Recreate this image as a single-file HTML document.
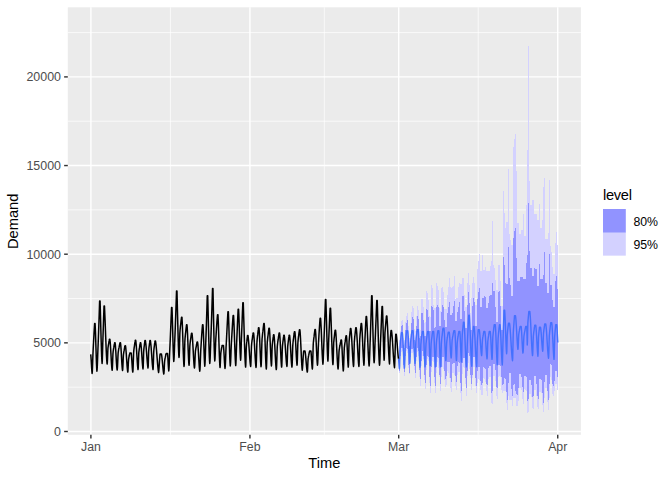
<!DOCTYPE html>
<html><head><meta charset="utf-8"><title>Forecast</title>
<style>html,body{margin:0;padding:0;background:#fff;overflow:hidden}body{width:672px;height:480px;font-family:"Liberation Sans",sans-serif}</style>
</head><body>
<svg width="672" height="480" viewBox="0 0 672 480" style="display:block;font-family:'Liberation Sans',sans-serif">
<rect x="0" y="0" width="672" height="480" fill="#FFFFFF"/>
<rect x="67.8" y="7.3" width="513.10" height="427.50" fill="#EBEBEB"/>
<g stroke="#FFFFFF" stroke-width="0.71" fill="none">
<line x1="67.8" x2="580.9" y1="387.18" y2="387.18"/>
<line x1="67.8" x2="580.9" y1="298.52" y2="298.52"/>
<line x1="67.8" x2="580.9" y1="209.88" y2="209.88"/>
<line x1="67.8" x2="580.9" y1="121.23" y2="121.23"/>
<line x1="67.8" x2="580.9" y1="32.58" y2="32.58"/>
<line y1="7.3" y2="434.8" x1="170.42" x2="170.42"/>
<line y1="7.3" y2="434.8" x1="324.31" x2="324.31"/>
<line y1="7.3" y2="434.8" x1="478.22" x2="478.22"/>
</g>
<g stroke="#FFFFFF" stroke-width="1.42" fill="none">
<line x1="67.8" x2="580.9" y1="431.50" y2="431.50"/>
<line x1="67.8" x2="580.9" y1="342.85" y2="342.85"/>
<line x1="67.8" x2="580.9" y1="254.20" y2="254.20"/>
<line x1="67.8" x2="580.9" y1="165.55" y2="165.55"/>
<line x1="67.8" x2="580.9" y1="76.90" y2="76.90"/>
<line y1="7.3" y2="434.8" x1="90.90" x2="90.90"/>
<line y1="7.3" y2="434.8" x1="249.93" x2="249.93"/>
<line y1="7.3" y2="434.8" x1="398.70" x2="398.70"/>
<line y1="7.3" y2="434.8" x1="557.73" x2="557.73"/>
</g>
<g shape-rendering="crispEdges" fill="#D3D1FF">
<rect x="399" y="340.0" width="1" height="32.5"/>
<rect x="400" y="331.0" width="1" height="28.2"/>
<rect x="401" y="320.9" width="1" height="31.1"/>
<rect x="402" y="320.0" width="1" height="31.0"/>
<rect x="403" y="338.0" width="1" height="30.7"/>
<rect x="404" y="340.0" width="1" height="36.2"/>
<rect x="405" y="322.0" width="1" height="37.8"/>
<rect x="406" y="315.9" width="1" height="35.1"/>
<rect x="407" y="313.0" width="1" height="39.5"/>
<rect x="408" y="326.0" width="1" height="41.8"/>
<rect x="409" y="338.0" width="1" height="36.4"/>
<rect x="410" y="334.0" width="1" height="26.2"/>
<rect x="411" y="312.0" width="1" height="40.5"/>
<rect x="412" y="306.2" width="1" height="46.3"/>
<rect x="413" y="307.8" width="1" height="44.2"/>
<rect x="414" y="329.0" width="1" height="40.9"/>
<rect x="415" y="331.0" width="1" height="46.5"/>
<rect x="416" y="315.9" width="1" height="45.0"/>
<rect x="417" y="306.2" width="1" height="45.8"/>
<rect x="418" y="309.6" width="1" height="46.4"/>
<rect x="419" y="329.0" width="1" height="47.7"/>
<rect x="420" y="330.0" width="1" height="55.6"/>
<rect x="421" y="299.0" width="1" height="67.4"/>
<rect x="422" y="299.0" width="1" height="57.0"/>
<rect x="423" y="306.5" width="1" height="52.9"/>
<rect x="424" y="322.8" width="1" height="57.6"/>
<rect x="425" y="322.4" width="1" height="67.0"/>
<rect x="426" y="291.0" width="1" height="78.9"/>
<rect x="427" y="293.0" width="1" height="66.4"/>
<rect x="428" y="300.0" width="1" height="60.6"/>
<rect x="429" y="316.0" width="1" height="67.3"/>
<rect x="430" y="316.5" width="1" height="76.5"/>
<rect x="431" y="285.0" width="1" height="86.9"/>
<rect x="432" y="288.0" width="1" height="72.6"/>
<rect x="433" y="305.0" width="1" height="57.0"/>
<rect x="434" y="308.4" width="1" height="75.0"/>
<rect x="435" y="308.4" width="1" height="84.1"/>
<rect x="436" y="283.0" width="1" height="89.7"/>
<rect x="437" y="286.0" width="1" height="76.0"/>
<rect x="438" y="290.0" width="1" height="77.8"/>
<rect x="439" y="307.9" width="1" height="69.1"/>
<rect x="440" y="311.0" width="1" height="79.8"/>
<rect x="441" y="287.6" width="1" height="89.3"/>
<rect x="442" y="287.0" width="1" height="79.9"/>
<rect x="443" y="292.0" width="1" height="76.8"/>
<rect x="444" y="309.4" width="1" height="70.1"/>
<rect x="445" y="309.4" width="1" height="77.3"/>
<rect x="446" y="309.4" width="1" height="75.1"/>
<rect x="447" y="294.5" width="1" height="76.8"/>
<rect x="448" y="287.0" width="1" height="86.0"/>
<rect x="449" y="278.0" width="1" height="99.5"/>
<rect x="450" y="287.0" width="1" height="100.6"/>
<rect x="451" y="287.6" width="1" height="104.1"/>
<rect x="452" y="287.0" width="1" height="86.1"/>
<rect x="453" y="286.4" width="1" height="86.7"/>
<rect x="454" y="276.0" width="1" height="99.0"/>
<rect x="455" y="298.5" width="1" height="87.2"/>
<rect x="456" y="298.2" width="1" height="92.1"/>
<rect x="457" y="298.2" width="1" height="76.8"/>
<rect x="458" y="287.0" width="1" height="84.9"/>
<rect x="459" y="282.6" width="1" height="89.3"/>
<rect x="460" y="283.9" width="1" height="108.7"/>
<rect x="461" y="283.9" width="1" height="116.9"/>
<rect x="462" y="278.0" width="1" height="95.8"/>
<rect x="463" y="278.2" width="1" height="88.6"/>
<rect x="464" y="294.5" width="1" height="73.0"/>
<rect x="465" y="306.6" width="1" height="77.4"/>
<rect x="466" y="306.6" width="1" height="89.1"/>
<rect x="467" y="283.2" width="1" height="93.0"/>
<rect x="468" y="273.2" width="1" height="89.9"/>
<rect x="469" y="284.5" width="1" height="84.5"/>
<rect x="470" y="313.0" width="1" height="65.0"/>
<rect x="471" y="298.2" width="1" height="91.6"/>
<rect x="472" y="283.2" width="1" height="94.9"/>
<rect x="473" y="277.2" width="1" height="89.6"/>
<rect x="474" y="282.6" width="1" height="84.3"/>
<rect x="475" y="304.8" width="1" height="81.0"/>
<rect x="476" y="304.8" width="1" height="88.5"/>
<rect x="477" y="269.4" width="1" height="113.6"/>
<rect x="478" y="261.2" width="1" height="117.8"/>
<rect x="479" y="254.0" width="1" height="126.4"/>
<rect x="480" y="271.4" width="1" height="118.1"/>
<rect x="481" y="271.4" width="1" height="123.4"/>
<rect x="482" y="255.0" width="1" height="140.4"/>
<rect x="483" y="270.1" width="1" height="107.9"/>
<rect x="484" y="270.1" width="1" height="108.4"/>
<rect x="485" y="267.0" width="1" height="115.2"/>
<rect x="486" y="270.8" width="1" height="120.6"/>
<rect x="487" y="270.8" width="1" height="125.6"/>
<rect x="488" y="270.8" width="1" height="108.2"/>
<rect x="489" y="270.8" width="1" height="106.5"/>
<rect x="490" y="265.8" width="1" height="111.5"/>
<rect x="491" y="261.0" width="1" height="141.6"/>
<rect x="492" y="221.0" width="1" height="182.6"/>
<rect x="493" y="265.1" width="1" height="110.9"/>
<rect x="494" y="268.2" width="1" height="107.8"/>
<rect x="495" y="280.0" width="1" height="101.0"/>
<rect x="496" y="289.7" width="1" height="106.7"/>
<rect x="497" y="289.7" width="1" height="108.9"/>
<rect x="498" y="265.1" width="1" height="111.5"/>
<rect x="499" y="265.1" width="1" height="110.9"/>
<rect x="500" y="280.8" width="1" height="96.5"/>
<rect x="501" y="306.0" width="1" height="83.5"/>
<rect x="502" y="306.0" width="1" height="87.0"/>
<rect x="503" y="191.2" width="1" height="200.1"/>
<rect x="504" y="212.5" width="1" height="178.9"/>
<rect x="505" y="227.5" width="1" height="163.9"/>
<rect x="506" y="222.0" width="1" height="181.2"/>
<rect x="507" y="222.0" width="1" height="187.5"/>
<rect x="508" y="169.0" width="1" height="227.4"/>
<rect x="509" y="234.0" width="1" height="165.5"/>
<rect x="510" y="240.0" width="1" height="159.5"/>
<rect x="511" y="245.0" width="1" height="155.0"/>
<rect x="512" y="245.0" width="1" height="161.4"/>
<rect x="513" y="147.0" width="1" height="250.6"/>
<rect x="514" y="139.0" width="1" height="259.2"/>
<rect x="515" y="134.0" width="1" height="264.2"/>
<rect x="516" y="171.0" width="1" height="234.8"/>
<rect x="517" y="223.0" width="1" height="182.8"/>
<rect x="518" y="223.0" width="1" height="177.8"/>
<rect x="519" y="234.0" width="1" height="153.6"/>
<rect x="520" y="234.0" width="1" height="153.6"/>
<rect x="521" y="230.0" width="1" height="159.5"/>
<rect x="522" y="230.0" width="1" height="168.9"/>
<rect x="523" y="214.4" width="1" height="189.5"/>
<rect x="524" y="235.6" width="1" height="153.4"/>
<rect x="525" y="235.6" width="1" height="154.4"/>
<rect x="526" y="205.0" width="1" height="186.0"/>
<rect x="527" y="150.0" width="1" height="262.5"/>
<rect x="528" y="46.0" width="1" height="366.0"/>
<rect x="529" y="181.0" width="1" height="212.9"/>
<rect x="530" y="205.0" width="1" height="188.9"/>
<rect x="531" y="205.0" width="1" height="192.0"/>
<rect x="532" y="200.0" width="1" height="208.2"/>
<rect x="533" y="200.0" width="1" height="208.9"/>
<rect x="534" y="213.8" width="1" height="176.2"/>
<rect x="535" y="213.8" width="1" height="176.2"/>
<rect x="536" y="213.8" width="1" height="182.6"/>
<rect x="537" y="220.0" width="1" height="187.0"/>
<rect x="538" y="220.0" width="1" height="188.9"/>
<rect x="539" y="203.8" width="1" height="188.6"/>
<rect x="540" y="227.5" width="1" height="164.8"/>
<rect x="541" y="227.5" width="1" height="165.1"/>
<rect x="542" y="220.0" width="1" height="184.5"/>
<rect x="543" y="187.0" width="1" height="225.0"/>
<rect x="544" y="178.0" width="1" height="219.6"/>
<rect x="545" y="238.8" width="1" height="149.5"/>
<rect x="546" y="238.8" width="1" height="149.5"/>
<rect x="547" y="238.8" width="1" height="162.9"/>
<rect x="548" y="233.0" width="1" height="176.8"/>
<rect x="549" y="180.0" width="1" height="217.6"/>
<rect x="550" y="246.0" width="1" height="130.6"/>
<rect x="551" y="252.0" width="1" height="128.0"/>
<rect x="552" y="267.0" width="1" height="126.5"/>
<rect x="553" y="274.0" width="1" height="121.8"/>
<rect x="554" y="274.0" width="1" height="117.4"/>
<rect x="555" y="242.5" width="1" height="141.5"/>
<rect x="556" y="232.0" width="1" height="152.0"/>
<rect x="557" y="245.0" width="1" height="144.8"/>
</g>
<g shape-rendering="crispEdges" fill="#9193FF">
<rect x="399" y="350.0" width="1" height="21.0"/>
<rect x="400" y="340.0" width="1" height="16.1"/>
<rect x="401" y="325.9" width="1" height="22.1"/>
<rect x="402" y="325.0" width="1" height="22.5"/>
<rect x="403" y="345.0" width="1" height="19.6"/>
<rect x="404" y="348.0" width="1" height="23.9"/>
<rect x="405" y="330.0" width="1" height="26.0"/>
<rect x="406" y="322.8" width="1" height="24.8"/>
<rect x="407" y="320.0" width="1" height="28.5"/>
<rect x="408" y="336.0" width="1" height="29.3"/>
<rect x="409" y="346.0" width="1" height="26.5"/>
<rect x="410" y="345.0" width="1" height="11.9"/>
<rect x="411" y="322.8" width="1" height="25.8"/>
<rect x="412" y="317.0" width="1" height="31.5"/>
<rect x="413" y="319.0" width="1" height="29.0"/>
<rect x="414" y="340.0" width="1" height="25.5"/>
<rect x="415" y="344.0" width="1" height="29.0"/>
<rect x="416" y="325.9" width="1" height="30.9"/>
<rect x="417" y="315.9" width="1" height="32.1"/>
<rect x="418" y="319.0" width="1" height="32.0"/>
<rect x="419" y="338.0" width="1" height="32.4"/>
<rect x="420" y="336.0" width="1" height="42.8"/>
<rect x="421" y="313.0" width="1" height="47.7"/>
<rect x="422" y="313.0" width="1" height="38.0"/>
<rect x="423" y="320.0" width="1" height="36.0"/>
<rect x="424" y="335.8" width="1" height="38.8"/>
<rect x="425" y="335.8" width="1" height="46.7"/>
<rect x="426" y="309.0" width="1" height="56.3"/>
<rect x="427" y="310.0" width="1" height="46.0"/>
<rect x="428" y="317.0" width="1" height="40.0"/>
<rect x="429" y="331.4" width="1" height="45.6"/>
<rect x="430" y="331.4" width="1" height="54.2"/>
<rect x="431" y="305.9" width="1" height="61.1"/>
<rect x="432" y="306.5" width="1" height="50.5"/>
<rect x="433" y="309.6" width="1" height="47.4"/>
<rect x="434" y="327.8" width="1" height="49.3"/>
<rect x="435" y="327.4" width="1" height="58.2"/>
<rect x="436" y="306.5" width="1" height="60.5"/>
<rect x="437" y="305.2" width="1" height="51.8"/>
<rect x="438" y="306.6" width="1" height="50.9"/>
<rect x="439" y="325.5" width="1" height="49.5"/>
<rect x="440" y="325.5" width="1" height="58.1"/>
<rect x="441" y="312.0" width="1" height="54.9"/>
<rect x="442" y="305.4" width="1" height="51.5"/>
<rect x="443" y="306.6" width="1" height="50.3"/>
<rect x="444" y="320.0" width="1" height="50.6"/>
<rect x="445" y="327.4" width="1" height="51.2"/>
<rect x="446" y="327.4" width="1" height="49.0"/>
<rect x="447" y="313.0" width="1" height="48.9"/>
<rect x="448" y="307.0" width="1" height="54.9"/>
<rect x="449" y="302.0" width="1" height="59.9"/>
<rect x="450" y="314.8" width="1" height="63.2"/>
<rect x="451" y="314.8" width="1" height="67.6"/>
<rect x="452" y="312.5" width="1" height="51.5"/>
<rect x="453" y="306.0" width="1" height="57.1"/>
<rect x="454" y="301.3" width="1" height="61.8"/>
<rect x="455" y="320.7" width="1" height="55.1"/>
<rect x="456" y="320.7" width="1" height="61.0"/>
<rect x="457" y="312.0" width="1" height="54.2"/>
<rect x="458" y="307.0" width="1" height="54.9"/>
<rect x="459" y="301.9" width="1" height="60.6"/>
<rect x="460" y="318.8" width="1" height="64.2"/>
<rect x="461" y="318.8" width="1" height="71.9"/>
<rect x="462" y="296.1" width="1" height="67.3"/>
<rect x="463" y="296.1" width="1" height="61.7"/>
<rect x="464" y="311.0" width="1" height="46.8"/>
<rect x="465" y="328.0" width="1" height="50.0"/>
<rect x="466" y="328.0" width="1" height="59.6"/>
<rect x="467" y="305.4" width="1" height="65.2"/>
<rect x="468" y="291.9" width="1" height="60.9"/>
<rect x="469" y="303.0" width="1" height="53.2"/>
<rect x="470" y="329.8" width="1" height="45.4"/>
<rect x="471" y="329.8" width="1" height="53.9"/>
<rect x="472" y="306.3" width="1" height="68.7"/>
<rect x="473" y="298.2" width="1" height="58.7"/>
<rect x="474" y="301.9" width="1" height="55.0"/>
<rect x="475" y="326.0" width="1" height="52.0"/>
<rect x="476" y="326.0" width="1" height="59.8"/>
<rect x="477" y="299.4" width="1" height="71.6"/>
<rect x="478" y="291.9" width="1" height="75.4"/>
<rect x="479" y="288.1" width="1" height="79.1"/>
<rect x="480" y="306.9" width="1" height="74.1"/>
<rect x="481" y="306.9" width="1" height="77.6"/>
<rect x="482" y="298.1" width="1" height="84.9"/>
<rect x="483" y="297.5" width="1" height="69.8"/>
<rect x="484" y="296.0" width="1" height="71.5"/>
<rect x="485" y="296.9" width="1" height="71.6"/>
<rect x="486" y="307.5" width="1" height="76.5"/>
<rect x="487" y="307.5" width="1" height="77.9"/>
<rect x="488" y="303.0" width="1" height="65.0"/>
<rect x="489" y="296.2" width="1" height="69.8"/>
<rect x="490" y="295.0" width="1" height="71.0"/>
<rect x="491" y="294.7" width="1" height="97.9"/>
<rect x="492" y="283.1" width="1" height="108.3"/>
<rect x="493" y="291.2" width="1" height="72.8"/>
<rect x="494" y="291.2" width="1" height="72.8"/>
<rect x="495" y="306.9" width="1" height="63.5"/>
<rect x="496" y="322.0" width="1" height="65.3"/>
<rect x="497" y="322.0" width="1" height="66.2"/>
<rect x="498" y="291.9" width="1" height="73.1"/>
<rect x="499" y="291.2" width="1" height="74.1"/>
<rect x="500" y="306.2" width="1" height="60.1"/>
<rect x="501" y="330.0" width="1" height="47.2"/>
<rect x="502" y="330.0" width="1" height="54.5"/>
<rect x="503" y="257.0" width="1" height="127.0"/>
<rect x="504" y="265.0" width="1" height="113.2"/>
<rect x="505" y="282.5" width="1" height="96.0"/>
<rect x="506" y="283.8" width="1" height="107.9"/>
<rect x="507" y="283.8" width="1" height="115.8"/>
<rect x="508" y="247.0" width="1" height="135.9"/>
<rect x="509" y="277.5" width="1" height="95.4"/>
<rect x="510" y="285.0" width="1" height="88.2"/>
<rect x="511" y="295.6" width="1" height="93.3"/>
<rect x="512" y="295.6" width="1" height="100.8"/>
<rect x="513" y="238.0" width="1" height="147.0"/>
<rect x="514" y="230.6" width="1" height="153.4"/>
<rect x="515" y="228.0" width="1" height="162.8"/>
<rect x="516" y="258.0" width="1" height="135.9"/>
<rect x="517" y="280.6" width="1" height="113.9"/>
<rect x="518" y="280.6" width="1" height="107.0"/>
<rect x="519" y="280.6" width="1" height="93.5"/>
<rect x="520" y="277.0" width="1" height="97.1"/>
<rect x="521" y="277.0" width="1" height="100.2"/>
<rect x="522" y="277.0" width="1" height="109.7"/>
<rect x="523" y="279.4" width="1" height="112.3"/>
<rect x="524" y="279.4" width="1" height="96.6"/>
<rect x="525" y="279.4" width="1" height="96.6"/>
<rect x="526" y="262.5" width="1" height="114.8"/>
<rect x="527" y="255.0" width="1" height="145.8"/>
<rect x="528" y="203.0" width="1" height="195.9"/>
<rect x="529" y="251.0" width="1" height="129.0"/>
<rect x="530" y="268.0" width="1" height="112.0"/>
<rect x="531" y="268.0" width="1" height="116.8"/>
<rect x="532" y="275.6" width="1" height="121.4"/>
<rect x="533" y="275.6" width="1" height="120.8"/>
<rect x="534" y="268.0" width="1" height="108.0"/>
<rect x="535" y="269.4" width="1" height="106.6"/>
<rect x="536" y="269.4" width="1" height="114.6"/>
<rect x="537" y="285.6" width="1" height="110.4"/>
<rect x="538" y="285.6" width="1" height="113.3"/>
<rect x="539" y="264.0" width="1" height="115.0"/>
<rect x="540" y="278.8" width="1" height="100.2"/>
<rect x="541" y="278.8" width="1" height="101.2"/>
<rect x="542" y="278.8" width="1" height="113.9"/>
<rect x="543" y="275.0" width="1" height="128.0"/>
<rect x="544" y="252.0" width="1" height="130.0"/>
<rect x="545" y="282.5" width="1" height="92.5"/>
<rect x="546" y="282.5" width="1" height="92.5"/>
<rect x="547" y="293.0" width="1" height="97.8"/>
<rect x="548" y="293.0" width="1" height="107.0"/>
<rect x="549" y="254.0" width="1" height="130.4"/>
<rect x="550" y="285.0" width="1" height="79.1"/>
<rect x="551" y="285.0" width="1" height="79.5"/>
<rect x="552" y="300.0" width="1" height="84.0"/>
<rect x="553" y="307.0" width="1" height="78.8"/>
<rect x="554" y="307.0" width="1" height="74.0"/>
<rect x="555" y="281.0" width="1" height="90.0"/>
<rect x="556" y="275.6" width="1" height="95.4"/>
<rect x="557" y="289.0" width="1" height="88.2"/>
</g>
<path d="M398.50,358.75 L398.73,360.68 L398.95,363.75 L399.17,366.82 L399.40,368.75 L399.62,366.19 L399.83,357.07 L400.05,347.39 L400.27,343.86 L400.48,341.01 L400.70,339.24 L400.92,336.64 L401.13,334.84 L401.35,332.70 L401.55,332.70 L401.75,332.70 L401.95,332.70 L402.15,332.70 L402.35,332.70 L402.56,334.77 L402.76,337.75 L402.97,341.49 L403.17,345.80 L403.38,350.40 L403.58,355.00 L403.78,359.31 L403.99,363.05 L404.19,366.03 L404.40,368.10 L404.61,366.52 L404.83,359.96 L405.04,351.02 L405.25,344.21 L405.47,342.10 L405.68,339.64 L405.90,338.07 L406.11,336.17 L406.32,334.01 L406.54,332.60 L406.75,330.80 L406.95,330.80 L407.15,330.80 L407.35,330.80 L407.55,330.80 L407.75,330.80 L407.95,332.71 L408.15,335.45 L408.35,338.90 L408.55,342.86 L408.75,347.10 L408.95,351.34 L409.15,355.30 L409.35,358.75 L409.55,361.49 L409.75,363.40 L409.95,362.02 L410.16,356.28 L410.36,348.47 L410.57,342.52 L410.77,340.67 L410.98,338.53 L411.18,337.15 L411.39,335.49 L411.59,333.61 L411.80,332.37 L412.00,330.80 L412.20,330.80 L412.40,330.80 L412.60,330.80 L412.80,330.80 L413.00,330.80 L413.20,332.71 L413.40,335.45 L413.60,338.90 L413.80,342.86 L414.00,347.10 L414.20,351.34 L414.40,355.30 L414.60,358.75 L414.80,361.49 L415.00,363.40 L415.20,361.96 L415.41,356.02 L415.61,347.92 L415.82,341.75 L416.02,339.84 L416.23,337.61 L416.43,336.19 L416.64,334.46 L416.84,332.51 L417.05,331.23 L417.25,329.60 L417.45,329.60 L417.65,329.60 L417.85,329.60 L418.05,329.60 L418.25,329.60 L418.47,332.50 L418.69,336.86 L418.91,342.33 L419.12,348.40 L419.34,354.47 L419.56,359.94 L419.78,364.30 L420.00,367.20 L420.21,365.68 L420.43,359.40 L420.64,350.83 L420.85,344.30 L421.07,342.28 L421.28,339.93 L421.50,338.42 L421.71,336.59 L421.92,334.53 L422.14,333.17 L422.35,331.45 L422.55,331.45 L422.75,331.45 L422.95,331.45 L423.15,331.45 L423.35,331.45 L423.56,334.19 L423.76,338.29 L423.97,343.45 L424.18,349.17 L424.38,354.90 L424.59,360.06 L424.79,364.16 L425.00,366.90 L425.20,365.86 L425.41,361.50 L425.61,354.60 L425.82,347.72 L426.02,343.45 L426.22,342.02 L426.43,340.03 L426.63,338.59 L426.83,337.37 L427.04,335.52 L427.24,334.08 L427.45,332.85 L427.65,331.45 L427.85,331.45 L428.05,331.45 L428.25,331.45 L428.45,331.45 L428.65,331.45 L428.85,334.09 L429.05,338.04 L429.25,343.01 L429.45,348.52 L429.65,354.04 L429.85,359.01 L430.05,362.96 L430.25,365.60 L430.47,364.15 L430.69,358.15 L430.90,349.96 L431.12,343.73 L431.34,341.79 L431.56,339.55 L431.78,338.10 L432.00,336.36 L432.21,334.39 L432.43,333.09 L432.65,331.45 L432.85,331.45 L433.05,331.45 L433.25,331.45 L433.45,331.45 L433.65,331.45 L433.87,334.19 L434.09,338.29 L434.31,343.45 L434.52,349.17 L434.74,354.90 L434.96,360.06 L435.18,364.16 L435.40,366.90 L435.60,365.69 L435.81,360.35 L436.01,352.51 L436.22,345.51 L436.42,342.55 L436.62,340.55 L436.83,338.55 L437.03,337.35 L437.24,335.42 L437.44,333.66 L437.65,332.37 L437.85,330.80 L438.05,330.80 L438.25,330.80 L438.45,330.80 L438.65,330.80 L438.85,330.80 L439.06,333.59 L439.26,337.77 L439.47,343.02 L439.68,348.85 L439.88,354.68 L440.09,359.93 L440.29,364.11 L440.50,366.90 L440.71,365.60 L440.92,359.89 L441.12,351.51 L441.33,344.03 L441.54,340.86 L441.75,338.72 L441.96,336.59 L442.17,335.31 L442.38,333.24 L442.58,331.36 L442.79,329.98 L443.00,328.30 L443.20,328.30 L443.40,328.30 L443.60,328.30 L443.80,328.30 L444.00,328.30 L444.20,330.45 L444.40,333.61 L444.60,337.59 L444.80,342.10 L445.00,346.80 L445.20,351.31 L445.40,355.29 L445.60,358.45 L445.80,360.60 L446.00,359.64 L446.21,355.43 L446.41,349.24 L446.62,343.71 L446.82,341.37 L447.02,339.79 L447.23,338.22 L447.43,337.27 L447.64,335.75 L447.84,334.36 L448.05,333.34 L448.25,332.10 L448.45,332.10 L448.65,332.10 L448.85,332.10 L449.05,332.10 L449.25,332.10 L449.46,333.82 L449.66,336.36 L449.87,339.55 L450.07,343.17 L450.28,346.93 L450.48,350.55 L450.69,353.74 L450.89,356.28 L451.10,358.00 L451.31,357.20 L451.52,353.86 L451.73,348.56 L451.95,343.28 L452.16,340.01 L452.37,338.91 L452.58,337.38 L452.79,336.28 L453.00,335.34 L453.22,333.93 L453.43,332.82 L453.64,331.87 L453.85,330.80 L454.05,330.80 L454.25,330.80 L454.45,330.80 L454.65,330.80 L454.85,330.80 L455.07,333.53 L455.29,337.72 L455.51,342.92 L455.74,348.48 L455.96,353.68 L456.18,357.87 L456.40,360.60 L456.60,359.62 L456.81,355.31 L457.01,348.98 L457.22,343.33 L457.42,340.93 L457.62,339.32 L457.83,337.71 L458.03,336.74 L458.24,335.18 L458.44,333.76 L458.65,332.72 L458.85,331.45 L459.05,331.45 L459.25,331.45 L459.45,331.45 L459.65,331.45 L459.85,331.45 L460.07,334.25 L460.29,338.54 L460.51,343.87 L460.74,349.58 L460.96,354.91 L461.18,359.20 L461.40,362.00 L461.60,359.83 L461.81,351.43 L462.01,341.10 L462.22,335.39 L462.42,332.87 L462.63,330.36 L462.83,328.57 L463.04,325.92 L463.25,324.23 L463.45,322.10 L463.65,322.10 L463.85,322.10 L464.05,322.10 L464.26,324.73 L464.48,328.21 L464.69,332.45 L464.90,337.27 L465.12,342.44 L465.33,347.71 L465.55,352.80 L465.76,357.47 L465.97,361.49 L466.19,364.67 L466.40,366.90 L466.61,364.82 L466.83,359.42 L467.04,352.18 L467.25,345.61 L467.47,341.19 L467.68,336.38 L467.90,331.95 L468.11,327.40 L468.32,322.87 L468.54,318.99 L468.75,315.20 L468.95,315.20 L469.15,315.20 L469.35,315.20 L469.57,318.94 L469.79,323.42 L470.00,328.53 L470.22,334.11 L470.44,339.93 L470.66,345.75 L470.88,351.30 L471.10,356.33 L471.31,360.62 L471.53,363.98 L471.75,366.25 L471.96,362.49 L472.18,350.38 L472.39,340.20 L472.60,337.20 L472.81,334.35 L473.02,331.55 L473.24,329.05 L473.45,326.45 L473.65,326.45 L473.85,326.45 L474.05,326.45 L474.25,328.16 L474.46,330.50 L474.66,333.41 L474.87,336.80 L475.07,340.56 L475.27,344.54 L475.48,348.61 L475.68,352.59 L475.88,356.35 L476.09,359.74 L476.29,362.65 L476.50,364.99 L476.70,366.70 L476.92,361.92 L477.14,348.51 L477.36,341.43 L477.59,337.80 L477.81,335.27 L478.03,332.23 L478.25,329.60 L478.45,329.60 L478.65,329.60 L478.85,329.60 L479.05,329.60 L479.25,329.60 L479.46,330.95 L479.68,332.86 L479.89,335.26 L480.10,338.03 L480.32,341.05 L480.53,344.15 L480.75,347.17 L480.96,349.94 L481.17,352.34 L481.39,354.25 L481.60,355.60 L481.80,354.57 L482.01,350.33 L482.21,344.54 L482.42,340.13 L482.62,338.76 L482.83,337.18 L483.03,336.16 L483.24,334.92 L483.44,333.53 L483.65,332.61 L483.85,331.45 L484.05,331.45 L484.25,331.45 L484.45,331.45 L484.65,331.45 L484.85,331.45 L485.06,333.05 L485.28,335.35 L485.50,338.24 L485.71,341.57 L485.93,345.12 L486.14,348.68 L486.36,352.01 L486.57,354.90 L486.79,357.20 L487.00,358.80 L487.20,357.64 L487.41,352.83 L487.61,346.27 L487.82,341.28 L488.02,339.73 L488.23,337.94 L488.43,336.78 L488.64,335.38 L488.84,333.80 L489.05,332.77 L489.25,331.45 L489.45,331.45 L489.65,331.45 L489.85,331.45 L490.05,331.45 L490.25,331.45 L490.47,333.61 L490.69,336.85 L490.91,340.91 L491.12,345.42 L491.34,349.94 L491.56,354.00 L491.78,357.24 L492.00,359.40 L492.20,357.92 L492.41,351.80 L492.61,343.46 L492.82,337.11 L493.02,335.14 L493.23,332.85 L493.43,331.38 L493.64,329.61 L493.84,327.60 L494.05,326.28 L494.25,324.60 L494.45,324.60 L494.65,324.60 L494.85,324.60 L495.05,324.60 L495.25,324.60 L495.45,326.95 L495.65,330.32 L495.85,334.57 L496.05,339.46 L496.25,344.67 L496.45,349.89 L496.65,354.78 L496.85,359.03 L497.05,362.40 L497.25,364.75 L497.47,362.56 L497.69,354.12 L497.91,343.72 L498.13,337.97 L498.35,335.44 L498.57,332.91 L498.79,331.11 L499.01,328.45 L499.23,326.74 L499.45,324.60 L499.65,324.60 L499.85,324.60 L500.05,324.60 L500.27,326.96 L500.49,330.36 L500.71,334.63 L500.93,339.55 L501.15,344.80 L501.37,350.05 L501.59,354.97 L501.81,359.24 L502.03,362.64 L502.25,365.00 L502.45,361.99 L502.65,354.42 L502.85,345.69 L503.05,339.54 L503.25,333.32 L503.45,327.49 L503.65,321.25 L503.85,315.64 L504.05,310.20 L504.25,310.20 L504.45,310.20 L504.65,310.20 L504.87,313.29 L505.08,317.65 L505.30,323.06 L505.52,329.14 L505.73,335.43 L505.95,341.44 L506.17,346.73 L506.38,350.92 L506.60,353.75 L506.81,351.59 L507.02,343.88 L507.23,335.71 L507.44,332.72 L507.66,330.32 L507.87,328.83 L508.08,326.63 L508.29,325.10 L508.50,323.30 L508.70,323.30 L508.90,323.30 L509.10,323.30 L509.30,323.30 L509.50,323.30 L509.70,324.65 L509.90,326.43 L510.10,328.63 L510.30,331.19 L510.50,334.05 L510.70,337.14 L510.90,340.36 L511.10,343.64 L511.30,346.86 L511.50,349.95 L511.70,352.81 L511.90,355.37 L512.10,357.57 L512.30,359.35 L512.50,360.70 L512.70,358.36 L512.90,349.43 L513.10,338.41 L513.30,332.18 L513.50,329.24 L513.70,326.26 L513.90,323.99 L514.10,320.79 L514.30,318.54 L514.50,315.80 L514.70,315.80 L514.90,315.80 L515.10,315.80 L515.30,315.80 L515.50,315.80 L515.72,317.55 L515.94,320.02 L516.15,323.11 L516.37,326.70 L516.59,330.60 L516.81,334.60 L517.03,338.50 L517.25,342.09 L517.46,345.18 L517.68,347.65 L517.90,349.40 L518.10,348.43 L518.31,344.39 L518.51,338.89 L518.72,334.70 L518.92,333.40 L519.13,331.89 L519.33,330.92 L519.54,329.75 L519.74,328.43 L519.95,327.55 L520.15,326.45 L520.35,326.45 L520.55,326.45 L520.75,326.45 L520.95,326.45 L521.15,326.45 L521.37,328.51 L521.59,331.59 L521.81,335.47 L522.02,339.77 L522.24,344.08 L522.46,347.96 L522.68,351.04 L522.90,353.10 L523.10,352.35 L523.31,349.66 L523.51,345.03 L523.71,340.03 L523.92,336.27 L524.12,334.95 L524.33,333.65 L524.53,332.34 L524.73,331.58 L524.94,330.52 L525.14,329.23 L525.34,328.34 L525.55,327.41 L525.75,326.45 L525.95,326.45 L526.15,326.45 L526.35,326.45 L526.55,326.45 L526.75,326.45 L527.00,335.72 L527.25,345.00 L527.45,341.83 L527.65,331.62 L527.85,323.04 L528.05,320.51 L528.25,318.11 L528.45,315.75 L528.65,313.64 L528.85,311.45 L529.05,311.45 L529.25,311.45 L529.45,311.45 L529.65,311.45 L529.85,311.45 L530.05,313.52 L530.26,316.23 L530.46,319.51 L530.67,323.28 L530.87,327.41 L531.07,331.76 L531.28,336.16 L531.48,340.47 L531.68,344.52 L531.89,348.17 L532.09,351.29 L532.30,353.79 L532.50,355.60 L532.70,354.31 L532.91,348.96 L533.11,341.68 L533.32,336.13 L533.52,334.41 L533.73,332.41 L533.93,331.12 L534.14,329.57 L534.34,327.82 L534.55,326.66 L534.75,325.20 L534.95,325.20 L535.15,325.20 L535.35,325.20 L535.55,325.20 L535.75,325.20 L535.97,327.02 L536.18,329.63 L536.39,332.91 L536.61,336.69 L536.83,340.72 L537.04,344.76 L537.25,348.54 L537.47,351.82 L537.68,354.43 L537.90,356.25 L538.10,353.50 L538.30,344.63 L538.50,337.17 L538.70,334.97 L538.90,332.89 L539.10,330.83 L539.30,329.00 L539.50,327.10 L539.70,327.10 L539.90,327.10 L540.10,327.10 L540.30,327.10 L540.50,327.10 L540.70,328.36 L540.90,330.13 L541.10,332.36 L541.30,334.93 L541.50,337.74 L541.70,340.61 L541.90,343.42 L542.10,345.99 L542.30,348.22 L542.50,349.99 L542.70,351.25 L542.91,349.76 L543.11,344.02 L543.32,336.95 L543.52,333.04 L543.73,331.32 L543.93,329.60 L544.13,328.37 L544.34,326.56 L544.54,325.41 L544.75,323.95 L544.95,323.95 L545.15,323.95 L545.35,323.95 L545.55,323.95 L545.75,323.95 L545.96,325.41 L546.17,327.40 L546.38,329.88 L546.60,332.76 L546.81,335.96 L547.02,339.35 L547.23,342.80 L547.44,346.19 L547.65,349.39 L547.87,352.27 L548.08,354.75 L548.29,356.74 L548.50,358.20 L548.70,356.69 L548.91,350.45 L549.11,341.94 L549.32,335.46 L549.52,333.45 L549.73,331.12 L549.93,329.62 L550.14,327.81 L550.34,325.76 L550.55,324.41 L550.75,322.70 L550.95,322.70 L551.15,322.70 L551.35,322.70 L551.55,322.70 L551.75,322.70 L551.95,324.61 L552.16,327.30 L552.36,330.69 L552.57,334.61 L552.77,338.86 L552.98,343.24 L553.18,347.49 L553.39,351.41 L553.59,354.80 L553.80,357.49 L554.00,359.40 L554.22,356.11 L554.44,345.52 L554.66,336.62 L554.88,334.00 L555.09,331.51 L555.31,329.06 L555.53,326.87 L555.75,324.60 L555.95,324.60 L556.15,324.60 L556.35,324.60 L556.55,324.60 L556.75,324.60 L556.98,327.15 L557.21,331.22 L557.44,335.88 L557.67,339.95 L557.90,342.50" fill="none" stroke="#4470FF" stroke-width="1.42" stroke-linejoin="round" stroke-linecap="butt"/>
<path d="M90.70,354.40 L90.93,356.53 L91.17,359.86 L91.40,363.90 L91.63,367.94 L91.87,371.27 L92.10,373.40 L92.31,371.64 L92.52,367.02 L92.73,360.54 L92.94,354.15 L93.15,349.72 L93.36,345.64 L93.58,341.46 L93.79,337.73 L94.00,333.70 L94.21,329.95 L94.42,326.71 L94.63,323.60 L94.85,323.60 L95.07,323.60 L95.27,327.51 L95.48,332.62 L95.68,338.66 L95.88,345.28 L96.09,352.02 L96.29,358.41 L96.49,363.98 L96.70,368.35 L96.90,371.25 L97.11,369.70 L97.32,365.95 L97.53,360.47 L97.74,354.37 L97.95,348.76 L98.16,343.79 L98.37,338.20 L98.58,332.50 L98.79,326.61 L99.00,320.29 L99.21,313.96 L99.42,307.61 L99.63,301.10 L99.85,301.10 L100.07,301.10 L100.27,307.95 L100.48,315.24 L100.68,322.83 L100.88,330.54 L101.08,338.08 L101.29,345.19 L101.49,351.55 L101.69,356.88 L101.90,360.93 L102.10,363.40 L102.31,360.40 L102.53,352.91 L102.74,344.19 L102.96,337.83 L103.17,331.32 L103.39,325.08 L103.60,318.38 L103.82,312.20 L104.03,306.10 L104.25,306.10 L104.47,306.10 L104.67,310.44 L104.87,315.17 L105.08,320.24 L105.28,325.58 L105.48,331.07 L105.68,336.58 L105.89,341.97 L106.09,347.09 L106.29,351.81 L106.49,355.98 L106.70,359.48 L106.90,362.19 L107.10,364.00 L107.31,362.95 L107.52,358.59 L107.74,352.64 L107.95,348.12 L108.16,346.71 L108.37,345.08 L108.58,344.03 L108.79,342.77 L109.01,341.33 L109.22,340.39 L109.43,339.20 L109.65,339.20 L109.87,339.20 L110.07,340.82 L110.28,343.10 L110.48,345.96 L110.68,349.27 L110.88,352.87 L111.09,356.58 L111.29,360.18 L111.49,363.49 L111.69,366.35 L111.90,368.63 L112.10,370.25 L112.31,369.32 L112.52,365.25 L112.73,359.26 L112.94,353.92 L113.15,351.66 L113.36,350.14 L113.58,348.61 L113.79,347.70 L114.00,346.23 L114.21,344.88 L114.42,343.90 L114.63,342.70 L114.85,342.70 L115.07,342.70 L115.27,344.30 L115.48,346.59 L115.68,349.48 L115.88,352.80 L116.08,356.35 L116.29,359.90 L116.49,363.22 L116.69,366.11 L116.90,368.40 L117.10,370.00 L117.31,369.24 L117.52,366.48 L117.73,361.74 L117.94,356.62 L118.15,352.76 L118.36,351.41 L118.56,350.07 L118.77,348.73 L118.98,347.95 L119.19,346.87 L119.40,345.55 L119.61,344.63 L119.82,343.68 L120.03,342.70 L120.25,342.70 L120.47,342.70 L120.67,344.33 L120.88,346.66 L121.08,349.60 L121.28,352.99 L121.48,356.60 L121.69,360.21 L121.89,363.60 L122.09,366.54 L122.30,368.87 L122.50,370.50 L122.71,369.67 L122.92,366.00 L123.13,360.61 L123.34,355.80 L123.55,353.77 L123.77,352.40 L123.98,351.02 L124.19,350.20 L124.40,348.88 L124.61,347.66 L124.82,346.78 L125.03,345.70 L125.25,345.70 L125.47,345.70 L125.68,347.07 L125.88,349.01 L126.09,351.45 L126.30,354.26 L126.51,357.33 L126.71,360.47 L126.92,363.54 L127.13,366.35 L127.34,368.79 L127.54,370.73 L127.75,372.10 L127.96,371.06 L128.17,367.03 L128.38,362.07 L128.59,359.33 L128.80,358.12 L129.01,356.91 L129.22,356.05 L129.43,354.78 L129.64,353.97 L129.85,352.95 L130.07,352.95 L130.28,352.95 L130.50,352.95 L130.72,352.95 L130.93,352.95 L131.15,352.95 L131.38,354.70 L131.61,357.39 L131.84,360.74 L132.06,364.31 L132.29,367.66 L132.52,370.35 L132.75,372.10 L132.96,371.03 L133.17,366.33 L133.38,359.42 L133.59,353.26 L133.80,350.65 L134.01,348.89 L134.23,347.13 L134.44,346.07 L134.65,344.37 L134.86,342.82 L135.07,341.68 L135.28,340.30 L135.50,340.30 L135.72,340.30 L135.93,341.83 L136.13,343.98 L136.34,346.68 L136.55,349.80 L136.76,353.20 L136.96,356.70 L137.17,360.10 L137.38,363.22 L137.59,365.92 L137.79,368.07 L138.00,369.60 L138.21,368.46 L138.41,363.73 L138.62,357.28 L138.83,352.37 L139.04,350.85 L139.24,349.08 L139.45,347.94 L139.66,346.57 L139.87,345.02 L140.07,343.99 L140.28,342.70 L140.50,342.70 L140.72,342.70 L140.93,344.07 L141.13,346.00 L141.34,348.42 L141.55,351.23 L141.76,354.28 L141.96,357.42 L142.17,360.47 L142.38,363.28 L142.59,365.70 L142.79,367.63 L143.00,369.00 L143.21,366.98 L143.43,359.80 L143.64,352.17 L143.86,349.39 L144.07,347.15 L144.29,345.75 L144.50,343.71 L144.72,342.28 L144.93,340.60 L145.15,340.60 L145.37,340.60 L145.57,341.77 L145.77,343.36 L145.98,345.34 L146.18,347.65 L146.38,350.21 L146.58,352.92 L146.79,355.68 L146.99,358.39 L147.19,360.95 L147.39,363.26 L147.60,365.24 L147.80,366.83 L148.00,368.00 L148.21,366.06 L148.43,359.12 L148.64,351.76 L148.86,349.08 L149.07,346.92 L149.29,345.57 L149.50,343.60 L149.72,342.22 L149.93,340.60 L150.15,340.60 L150.37,340.60 L150.57,341.84 L150.77,343.52 L150.98,345.62 L151.18,348.06 L151.38,350.77 L151.58,353.64 L151.79,356.56 L151.99,359.43 L152.19,362.14 L152.39,364.58 L152.60,366.68 L152.80,368.36 L153.00,369.60 L153.20,368.04 L153.41,362.00 L153.61,354.56 L153.81,350.46 L154.01,348.65 L154.22,346.84 L154.42,345.55 L154.62,343.65 L154.83,342.43 L155.03,340.90 L155.25,340.90 L155.47,340.90 L155.68,342.04 L155.89,343.55 L156.10,345.40 L156.30,347.57 L156.51,349.98 L156.72,352.59 L156.93,355.32 L157.14,358.08 L157.35,360.81 L157.56,363.41 L157.77,365.83 L157.97,368.00 L158.18,369.85 L158.39,371.36 L158.60,372.50 L158.81,370.81 L159.03,368.21 L159.24,364.98 L159.46,361.52 L159.67,358.29 L159.89,355.69 L160.10,354.00 L160.32,354.00 L160.53,354.00 L160.75,354.00 L160.97,354.00 L161.18,354.00 L161.40,354.00 L161.61,355.04 L161.83,356.51 L162.04,358.35 L162.25,360.49 L162.47,362.81 L162.68,365.19 L162.90,367.51 L163.11,369.65 L163.32,371.49 L163.54,372.96 L163.75,374.00 L163.95,373.31 L164.16,370.26 L164.36,365.79 L164.57,361.79 L164.77,360.10 L164.97,358.96 L165.18,357.82 L165.38,357.14 L165.59,356.04 L165.79,355.03 L166.00,354.30 L166.20,353.40 L166.42,353.40 L166.63,353.40 L166.85,353.40 L167.07,353.40 L167.28,353.40 L167.50,353.40 L167.71,355.36 L167.92,358.43 L168.12,362.15 L168.33,365.87 L168.54,368.94 L168.75,370.90 L168.96,369.37 L169.18,365.64 L169.39,360.18 L169.61,354.19 L169.82,348.87 L170.03,344.39 L170.25,339.36 L170.46,334.32 L170.67,329.20 L170.89,323.70 L171.10,318.31 L171.32,312.99 L171.53,307.60 L171.75,307.60 L171.97,307.60 L172.19,313.70 L172.41,320.99 L172.64,329.10 L172.86,337.51 L173.08,345.56 L173.31,352.61 L173.53,358.08 L173.75,361.50 L173.96,359.95 L174.18,356.18 L174.39,350.68 L174.61,344.56 L174.82,338.93 L175.03,333.94 L175.25,328.33 L175.46,322.61 L175.67,316.71 L175.89,310.35 L176.10,304.01 L176.32,297.63 L176.53,291.10 L176.75,291.10 L176.97,291.10 L177.17,299.09 L177.38,307.30 L177.58,315.61 L177.78,323.85 L177.99,331.77 L178.19,339.13 L178.39,345.64 L178.59,351.06 L178.80,355.12 L179.00,357.50 L179.21,356.15 L179.42,350.20 L179.63,341.47 L179.84,333.68 L180.05,330.38 L180.26,328.15 L180.48,325.93 L180.69,324.60 L180.90,322.45 L181.11,320.48 L181.32,319.05 L181.53,317.30 L181.75,317.30 L181.97,317.30 L182.17,321.07 L182.38,325.78 L182.58,331.27 L182.78,337.29 L182.99,343.53 L183.19,349.65 L183.39,355.29 L183.59,360.15 L183.80,363.95 L184.00,366.50 L184.21,365.10 L184.42,358.93 L184.63,349.87 L184.84,341.79 L185.05,338.37 L185.26,336.06 L185.48,333.75 L185.69,332.37 L185.90,330.14 L186.11,328.10 L186.32,326.61 L186.53,324.80 L186.75,324.80 L186.97,324.80 L187.17,327.16 L187.38,330.56 L187.58,334.85 L187.78,339.77 L187.99,345.02 L188.19,350.28 L188.39,355.20 L188.59,359.49 L188.80,362.89 L189.00,365.25 L189.21,364.17 L189.42,359.43 L189.63,352.47 L189.84,346.26 L190.05,343.63 L190.26,341.85 L190.48,340.08 L190.69,339.02 L190.90,337.30 L191.11,335.74 L191.32,334.59 L191.53,333.20 L191.75,333.20 L191.97,333.20 L192.17,334.83 L192.38,337.09 L192.58,339.92 L192.78,343.20 L192.98,346.82 L193.19,350.60 L193.39,354.38 L193.59,358.00 L193.79,361.28 L194.00,364.11 L194.20,366.37 L194.40,368.00 L194.61,367.24 L194.82,364.04 L195.03,358.98 L195.24,353.93 L195.45,350.80 L195.66,349.75 L195.87,348.29 L196.08,347.24 L196.29,346.34 L196.50,344.99 L196.71,343.93 L196.92,343.03 L197.13,342.00 L197.35,342.00 L197.57,342.00 L197.79,343.71 L198.01,346.17 L198.22,349.26 L198.44,352.82 L198.66,356.62 L198.88,360.43 L199.10,363.99 L199.31,367.08 L199.53,369.54 L199.75,371.25 L199.96,369.69 L200.18,365.79 L200.39,360.05 L200.61,354.02 L200.82,349.28 L201.03,346.03 L201.25,342.37 L201.46,339.04 L201.67,335.90 L201.89,332.56 L202.10,329.66 L202.32,327.13 L202.53,324.80 L202.75,324.80 L202.97,324.80 L203.19,328.00 L203.41,332.80 L203.64,338.83 L203.86,345.52 L204.08,352.22 L204.31,358.25 L204.53,363.05 L204.75,366.25 L204.96,364.50 L205.17,360.10 L205.38,353.89 L205.59,347.29 L205.80,341.65 L206.01,335.87 L206.23,329.65 L206.44,323.40 L206.65,316.60 L206.86,309.68 L207.07,302.80 L207.28,295.70 L207.50,295.70 L207.72,295.70 L207.92,303.94 L208.13,312.38 L208.33,320.89 L208.53,329.30 L208.74,337.36 L208.94,344.82 L209.14,351.43 L209.34,356.91 L209.55,361.01 L209.75,363.40 L209.96,361.75 L210.18,357.75 L210.39,351.91 L210.61,345.41 L210.82,339.42 L211.03,334.12 L211.25,328.16 L211.46,322.08 L211.67,315.81 L211.89,309.06 L212.10,302.31 L212.32,295.54 L212.53,288.60 L212.75,288.60 L212.97,288.60 L213.19,299.64 L213.41,310.96 L213.64,322.26 L213.86,333.09 L214.08,342.92 L214.31,351.21 L214.53,357.40 L214.75,360.90 L214.96,359.35 L215.18,355.45 L215.39,349.72 L215.61,343.70 L215.82,338.98 L216.03,335.75 L216.25,332.12 L216.46,328.82 L216.67,325.72 L216.89,322.42 L217.10,319.56 L217.32,317.08 L217.53,314.80 L217.75,314.80 L217.97,314.80 L218.17,319.31 L218.38,324.65 L218.58,330.68 L218.78,337.15 L218.99,343.75 L219.19,350.16 L219.39,356.02 L219.59,361.04 L219.80,364.94 L220.00,367.50 L220.21,366.30 L220.42,361.66 L220.63,355.95 L220.84,352.79 L221.05,351.40 L221.26,350.01 L221.47,349.02 L221.68,347.56 L221.89,346.63 L222.10,345.45 L222.32,345.45 L222.53,345.45 L222.75,345.45 L222.97,345.45 L223.18,345.45 L223.40,345.45 L223.63,347.55 L223.86,350.78 L224.09,354.78 L224.31,359.07 L224.54,363.07 L224.77,366.30 L225.00,368.40 L225.21,366.95 L225.42,363.62 L225.63,358.52 L225.84,352.77 L226.05,347.53 L226.26,343.71 L226.47,339.67 L226.67,335.49 L226.88,331.60 L227.09,327.47 L227.30,323.21 L227.51,319.29 L227.72,315.44 L227.93,311.70 L228.15,311.70 L228.37,311.70 L228.58,317.13 L228.79,323.52 L229.00,330.62 L229.21,338.10 L229.41,345.53 L229.62,352.43 L229.83,358.37 L230.04,362.97 L230.25,365.90 L230.46,364.44 L230.66,361.09 L230.87,355.92 L231.07,350.16 L231.28,345.06 L231.48,341.60 L231.69,338.02 L231.90,334.35 L232.10,331.08 L232.31,327.65 L232.51,324.13 L232.72,321.07 L232.92,318.17 L233.13,315.45 L233.35,315.45 L233.57,315.45 L233.78,319.42 L234.00,324.30 L234.21,329.93 L234.42,336.07 L234.63,342.41 L234.85,348.61 L235.06,354.31 L235.27,359.21 L235.49,363.05 L235.70,365.60 L235.90,363.83 L236.10,359.26 L236.31,352.83 L236.51,346.35 L236.71,341.53 L236.91,336.90 L237.12,332.08 L237.32,327.56 L237.52,322.66 L237.72,317.92 L237.93,313.55 L238.13,309.20 L238.35,309.20 L238.57,309.20 L238.77,313.35 L238.98,318.40 L239.18,324.17 L239.38,330.42 L239.58,336.86 L239.79,343.13 L239.99,348.89 L240.19,353.84 L240.40,357.69 L240.60,360.25 L240.80,358.18 L241.01,352.87 L241.21,345.70 L241.41,339.00 L241.61,334.11 L241.82,328.73 L242.02,323.58 L242.22,318.20 L242.42,312.72 L242.63,307.72 L242.83,302.70 L243.05,302.70 L243.27,302.70 L243.48,309.43 L243.69,316.44 L243.91,323.65 L244.12,330.93 L244.33,338.08 L244.54,344.92 L244.75,351.24 L244.96,356.82 L245.18,361.45 L245.39,364.96 L245.60,367.10 L245.81,364.85 L246.03,356.84 L246.24,348.35 L246.46,345.24 L246.67,342.75 L246.89,341.19 L247.10,338.91 L247.32,337.32 L247.53,335.45 L247.75,335.45 L247.97,335.45 L248.17,336.77 L248.37,338.58 L248.58,340.82 L248.78,343.44 L248.98,346.33 L249.18,349.41 L249.39,352.54 L249.59,355.62 L249.79,358.51 L249.99,361.13 L250.20,363.37 L250.40,365.18 L250.60,366.50 L250.81,365.37 L251.02,360.41 L251.23,353.12 L251.44,346.62 L251.65,343.87 L251.87,342.01 L252.08,340.15 L252.29,339.04 L252.50,337.25 L252.71,335.61 L252.92,334.41 L253.13,332.95 L253.35,332.95 L253.57,332.95 L253.77,334.56 L253.97,336.80 L254.18,339.60 L254.38,342.85 L254.58,346.43 L254.78,350.17 L254.99,353.92 L255.19,357.50 L255.39,360.75 L255.59,363.55 L255.80,365.79 L256.00,367.40 L256.21,366.07 L256.42,360.19 L256.63,351.57 L256.84,343.88 L257.05,340.62 L257.26,338.42 L257.48,336.22 L257.69,334.90 L257.90,332.78 L258.11,330.84 L258.32,329.43 L258.53,327.70 L258.75,327.70 L258.97,327.70 L259.17,329.98 L259.38,333.27 L259.58,337.40 L259.78,342.15 L259.99,347.22 L260.19,352.30 L260.39,357.05 L260.59,361.18 L260.80,364.47 L261.00,366.75 L261.21,365.50 L261.43,360.31 L261.64,352.09 L261.86,343.89 L262.07,338.76 L262.28,336.98 L262.50,334.52 L262.71,332.72 L262.92,331.16 L263.14,328.85 L263.35,327.01 L263.57,325.41 L263.78,323.60 L264.00,323.60 L264.22,323.60 L264.42,326.65 L264.63,330.71 L264.83,335.64 L265.03,341.18 L265.24,347.01 L265.44,352.79 L265.64,358.17 L265.84,362.82 L266.05,366.49 L266.25,369.00 L266.46,367.80 L266.66,362.78 L266.87,354.84 L267.07,346.93 L267.28,342.01 L267.49,340.36 L267.69,338.07 L267.90,336.42 L268.11,335.01 L268.31,332.89 L268.52,331.23 L268.72,329.81 L268.93,328.20 L269.15,328.20 L269.37,328.20 L269.57,330.40 L269.78,333.57 L269.98,337.56 L270.18,342.15 L270.38,347.05 L270.59,351.95 L270.79,356.54 L270.99,360.53 L271.20,363.70 L271.40,365.90 L271.61,364.21 L271.83,357.66 L272.04,349.61 L272.25,345.16 L272.46,343.20 L272.68,341.24 L272.89,339.84 L273.10,337.78 L273.32,336.46 L273.53,334.80 L273.75,334.80 L273.97,334.80 L274.18,336.61 L274.38,339.17 L274.59,342.37 L274.80,346.09 L275.01,350.13 L275.21,354.27 L275.42,358.31 L275.63,362.03 L275.84,365.23 L276.04,367.79 L276.25,369.60 L276.46,368.57 L276.66,364.88 L276.87,358.51 L277.07,351.63 L277.28,346.46 L277.48,344.64 L277.69,342.85 L277.90,341.05 L278.10,340.00 L278.31,338.55 L278.51,336.77 L278.72,335.54 L278.92,334.27 L279.13,332.95 L279.35,332.95 L279.57,332.95 L279.77,334.95 L279.98,337.82 L280.18,341.43 L280.38,345.59 L280.59,350.02 L280.79,354.46 L280.99,358.62 L281.19,362.23 L281.40,365.10 L281.60,367.10 L281.82,365.36 L282.04,358.65 L282.25,350.39 L282.47,345.82 L282.69,343.81 L282.91,341.80 L283.13,340.37 L283.34,338.26 L283.56,336.90 L283.78,335.20 L284.00,335.20 L284.22,335.20 L284.43,336.53 L284.63,338.35 L284.84,340.62 L285.04,343.25 L285.25,346.17 L285.46,349.27 L285.66,352.43 L285.87,355.53 L286.08,358.45 L286.28,361.08 L286.49,363.35 L286.69,365.17 L286.90,366.50 L287.10,365.17 L287.31,359.67 L287.51,352.16 L287.71,346.45 L287.91,344.68 L288.12,342.62 L288.32,341.30 L288.52,339.70 L288.72,337.89 L288.93,336.71 L289.13,335.20 L289.35,335.20 L289.57,335.20 L289.78,336.86 L289.99,339.20 L290.21,342.14 L290.42,345.55 L290.63,349.25 L290.84,353.05 L291.05,356.75 L291.26,360.16 L291.48,363.10 L291.69,365.44 L291.90,367.10 L292.11,365.91 L292.32,360.67 L292.53,352.98 L292.74,346.12 L292.95,343.22 L293.16,341.26 L293.38,339.30 L293.59,338.12 L293.80,336.23 L294.01,334.50 L294.22,333.24 L294.43,331.70 L294.65,331.70 L294.87,331.70 L295.08,333.66 L295.30,336.48 L295.51,340.03 L295.72,344.11 L295.94,348.47 L296.15,352.84 L296.36,356.92 L296.57,360.47 L296.79,363.29 L297.00,365.25 L297.20,364.06 L297.40,358.81 L297.61,351.11 L297.81,344.24 L298.01,341.33 L298.21,339.37 L298.42,337.41 L298.62,336.23 L298.82,334.34 L299.02,332.61 L299.23,331.34 L299.43,329.80 L299.65,329.80 L299.87,329.80 L300.09,331.91 L300.30,334.88 L300.52,338.60 L300.74,342.92 L300.95,347.61 L301.17,352.44 L301.38,357.13 L301.60,361.45 L301.82,365.17 L302.03,368.14 L302.25,370.25 L302.46,368.50 L302.66,365.81 L302.87,362.46 L303.08,358.89 L303.29,355.54 L303.49,352.85 L303.70,351.10 L303.92,351.10 L304.13,351.10 L304.35,351.10 L304.57,351.10 L304.78,351.10 L305.00,351.10 L305.20,352.19 L305.41,353.73 L305.61,355.67 L305.82,357.91 L306.02,360.35 L306.23,362.85 L306.43,365.29 L306.64,367.53 L306.84,369.47 L307.05,371.01 L307.25,372.10 L307.46,371.21 L307.68,367.52 L307.89,362.48 L308.10,358.65 L308.32,357.46 L308.53,356.08 L308.75,355.19 L308.96,354.12 L309.17,352.91 L309.39,352.11 L309.60,351.10 L309.82,351.10 L310.03,351.10 L310.25,351.10 L310.47,351.10 L310.68,351.10 L310.90,351.10 L311.10,352.74 L311.30,355.25 L311.50,358.38 L311.70,361.72 L311.90,364.85 L312.10,367.36 L312.30,369.00 L312.50,367.84 L312.70,363.00 L312.91,355.33 L313.11,347.68 L313.31,342.94 L313.51,341.35 L313.72,339.13 L313.92,337.54 L314.12,336.18 L314.32,334.13 L314.53,332.53 L314.73,331.15 L314.93,329.60 L315.15,329.60 L315.37,329.60 L315.58,331.68 L315.79,334.67 L315.99,338.44 L316.20,342.77 L316.41,347.40 L316.62,352.03 L316.83,356.36 L317.03,360.13 L317.24,363.12 L317.45,365.20 L317.66,363.64 L317.86,359.73 L318.07,353.98 L318.27,347.93 L318.48,343.16 L318.69,339.87 L318.89,336.17 L319.10,332.78 L319.31,329.59 L319.51,326.18 L319.72,323.21 L319.92,320.61 L320.13,318.20 L320.35,318.20 L320.57,318.20 L320.78,321.03 L320.99,324.71 L321.21,329.12 L321.42,334.09 L321.63,339.39 L321.84,344.77 L322.05,349.96 L322.26,354.71 L322.48,358.79 L322.69,362.01 L322.90,364.25 L323.11,362.55 L323.32,358.26 L323.53,352.21 L323.74,345.86 L323.95,340.61 L324.16,335.29 L324.38,329.62 L324.59,323.99 L324.80,317.88 L325.01,311.70 L325.22,305.65 L325.43,299.45 L325.65,299.45 L325.87,299.45 L326.07,306.12 L326.28,313.27 L326.48,320.76 L326.68,328.38 L326.88,335.86 L327.09,342.92 L327.29,349.25 L327.49,354.57 L327.70,358.62 L327.90,361.10 L328.10,359.02 L328.31,353.62 L328.51,346.38 L328.71,339.78 L328.91,335.27 L329.12,330.35 L329.32,325.79 L329.52,321.09 L329.72,316.39 L329.93,312.31 L330.13,308.30 L330.35,308.30 L330.57,308.30 L330.78,313.11 L330.99,318.52 L331.21,324.43 L331.42,330.66 L331.63,337.01 L331.84,343.26 L332.05,349.14 L332.26,354.43 L332.48,358.90 L332.69,362.35 L332.90,364.60 L333.10,363.14 L333.31,357.09 L333.51,348.84 L333.71,342.57 L333.91,340.62 L334.12,338.36 L334.32,336.90 L334.52,335.15 L334.72,333.16 L334.93,331.86 L335.13,330.20 L335.35,330.20 L335.57,330.20 L335.77,332.02 L335.98,334.54 L336.18,337.69 L336.38,341.36 L336.58,345.38 L336.79,349.60 L336.99,353.82 L337.19,357.84 L337.39,361.51 L337.60,364.66 L337.80,367.18 L338.00,369.00 L338.20,368.23 L338.40,365.81 L338.61,361.32 L338.81,356.17 L339.01,351.82 L339.21,349.66 L339.41,348.54 L339.62,347.12 L339.82,346.00 L340.02,345.26 L340.22,344.05 L340.42,342.78 L340.63,341.98 L340.83,340.95 L341.03,340.00 L341.25,340.00 L341.47,340.00 L341.69,342.38 L341.92,345.97 L342.14,350.46 L342.36,355.45 L342.58,360.44 L342.81,364.93 L343.03,368.52 L343.25,370.90 L343.46,369.87 L343.68,365.55 L343.89,358.72 L344.11,351.91 L344.32,347.68 L344.53,346.26 L344.75,344.29 L344.96,342.87 L345.17,341.66 L345.39,339.83 L345.60,338.41 L345.82,337.18 L346.03,335.80 L346.25,335.80 L346.47,335.80 L346.69,338.22 L346.92,341.84 L347.14,346.40 L347.36,351.45 L347.58,356.50 L347.81,361.06 L348.03,364.68 L348.25,367.10 L348.47,365.00 L348.69,356.90 L348.90,346.93 L349.12,341.42 L349.34,339.00 L349.56,336.57 L349.78,334.84 L349.99,332.29 L350.21,330.66 L350.43,328.60 L350.65,328.60 L350.87,328.60 L351.07,330.21 L351.27,332.42 L351.48,335.16 L351.68,338.35 L351.88,341.89 L352.08,345.64 L352.29,349.46 L352.49,353.21 L352.69,356.75 L352.89,359.94 L353.10,362.68 L353.30,364.89 L353.50,366.50 L353.71,364.85 L353.91,358.03 L354.12,348.73 L354.33,341.65 L354.54,339.45 L354.74,336.90 L354.95,335.26 L355.16,333.28 L355.37,331.04 L355.57,329.57 L355.78,327.70 L356.00,327.70 L356.22,327.70 L356.43,329.35 L356.63,331.61 L356.84,334.41 L357.04,337.68 L357.25,341.30 L357.46,345.14 L357.66,349.06 L357.87,352.90 L358.08,356.52 L358.28,359.79 L358.49,362.59 L358.69,364.85 L358.90,366.50 L359.10,364.70 L359.31,357.29 L359.51,347.17 L359.71,339.45 L359.91,337.00 L360.12,334.15 L360.32,332.27 L360.52,330.02 L360.72,327.48 L360.93,325.76 L361.13,323.60 L361.35,323.60 L361.57,323.60 L361.78,325.77 L361.99,328.83 L362.21,332.66 L362.42,337.11 L362.63,341.94 L362.84,346.91 L363.05,351.74 L363.26,356.19 L363.48,360.02 L363.69,363.08 L363.90,365.25 L364.10,363.18 L364.31,357.79 L364.51,350.58 L364.71,344.12 L364.91,339.94 L365.12,335.41 L365.32,331.32 L365.52,327.16 L365.72,323.07 L365.93,319.69 L366.13,316.45 L366.35,316.45 L366.57,316.45 L366.78,319.57 L366.99,323.35 L367.20,327.71 L367.41,332.53 L367.62,337.65 L367.84,342.87 L368.05,348.01 L368.26,352.86 L368.47,357.22 L368.68,360.94 L368.89,363.87 L369.10,365.90 L369.31,364.15 L369.52,359.78 L369.73,353.60 L369.94,347.04 L370.15,341.42 L370.37,335.67 L370.58,329.48 L370.79,323.26 L371.00,316.50 L371.21,309.61 L371.42,302.76 L371.63,295.70 L371.85,295.70 L372.07,295.70 L372.27,303.87 L372.48,312.22 L372.68,320.65 L372.88,328.97 L373.09,336.96 L373.29,344.35 L373.49,350.89 L373.69,356.32 L373.90,360.38 L374.10,362.75 L374.31,361.21 L374.51,357.45 L374.72,351.93 L374.92,345.91 L375.13,340.60 L375.34,336.20 L375.54,331.25 L375.75,326.32 L375.96,321.33 L376.16,315.97 L376.37,310.75 L376.57,305.62 L376.78,300.45 L377.00,300.45 L377.22,300.45 L377.43,307.28 L377.63,314.38 L377.84,321.66 L378.05,328.98 L378.26,336.18 L378.46,343.05 L378.67,349.38 L378.88,354.97 L379.09,359.61 L379.29,363.12 L379.50,365.25 L379.71,363.49 L379.92,358.98 L380.13,352.62 L380.34,346.15 L380.55,341.19 L380.76,336.37 L380.98,331.31 L381.19,326.49 L381.40,321.25 L381.61,316.12 L381.82,311.30 L382.03,306.45 L382.25,306.45 L382.47,306.45 L382.67,312.52 L382.88,319.79 L383.08,327.89 L383.29,336.28 L383.49,344.32 L383.69,351.36 L383.90,356.83 L384.10,360.25 L384.31,358.43 L384.52,350.99 L384.74,340.82 L384.95,333.02 L385.16,330.46 L385.37,327.49 L385.58,325.48 L385.79,323.08 L386.01,320.36 L386.22,318.46 L386.43,316.10 L386.65,316.10 L386.87,316.10 L387.07,318.71 L387.27,321.92 L387.48,325.65 L387.68,329.83 L387.88,334.33 L388.08,339.00 L388.29,343.69 L388.49,348.25 L388.69,352.51 L388.89,356.33 L389.10,359.58 L389.30,362.16 L389.50,364.00 L389.72,359.68 L389.94,347.55 L390.16,341.15 L390.37,337.86 L390.59,335.57 L390.81,332.83 L391.03,330.45 L391.25,330.45 L391.47,330.45 L391.67,331.79 L391.87,333.57 L392.08,335.77 L392.28,338.32 L392.48,341.17 L392.68,344.25 L392.88,347.47 L393.09,350.73 L393.29,353.95 L393.49,357.03 L393.69,359.88 L393.89,362.43 L394.10,364.63 L394.30,366.41 L394.50,367.75 L394.71,364.00 L394.93,358.10 L395.14,350.98 L395.35,343.85 L395.57,337.95 L395.78,334.20 L396.00,334.20 L396.22,334.20 L396.43,335.48 L396.63,337.28 L396.84,339.54 L397.05,342.16 L397.26,345.01 L397.46,347.94 L397.67,350.79 L397.88,353.41 L398.09,355.67 L398.29,357.47 L398.50,358.75" fill="none" stroke="#000000" stroke-width="1.5" stroke-linejoin="round" stroke-linecap="butt"/>
<g stroke="#333333" stroke-width="1.42">
<line x1="64.13" x2="67.8" y1="431.50" y2="431.50"/>
<line x1="64.13" x2="67.8" y1="342.85" y2="342.85"/>
<line x1="64.13" x2="67.8" y1="254.20" y2="254.20"/>
<line x1="64.13" x2="67.8" y1="165.55" y2="165.55"/>
<line x1="64.13" x2="67.8" y1="76.90" y2="76.90"/>
<line y1="434.8" y2="438.47" x1="90.90" x2="90.90"/>
<line y1="434.8" y2="438.47" x1="249.93" x2="249.93"/>
<line y1="434.8" y2="438.47" x1="398.70" x2="398.70"/>
<line y1="434.8" y2="438.47" x1="557.73" x2="557.73"/>
</g>
<g fill="#4D4D4D" font-size="11.73px">
<text x="61.0" y="435.95" text-anchor="end" font-size="12.45px">0</text>
<text x="61.0" y="347.30" text-anchor="end" font-size="12.45px">5000</text>
<text x="61.0" y="258.65" text-anchor="end" font-size="12.45px">10000</text>
<text x="61.0" y="170.00" text-anchor="end" font-size="12.45px">15000</text>
<text x="61.0" y="81.35" text-anchor="end" font-size="12.45px">20000</text>
<text x="90.90" y="450.9" text-anchor="middle" font-size="12.3px">Jan</text>
<text x="249.93" y="450.9" text-anchor="middle" font-size="12.3px">Feb</text>
<text x="398.70" y="450.9" text-anchor="middle" font-size="12.3px">Mar</text>
<text x="557.73" y="450.9" text-anchor="middle" font-size="12.3px">Apr</text>
</g>
<g fill="#000000" font-size="14.67px">
<text x="324.3" y="468.4" text-anchor="middle">Time</text>
<text transform="translate(18.4,221.3) rotate(-90)" text-anchor="middle">Demand</text>
<text x="603" y="199.8" letter-spacing="-0.3">level</text>
</g>
<rect x="603" y="209" width="22.8" height="23.8" fill="#9193FF"/>
<rect x="603" y="232.75" width="22.8" height="22.9" fill="#D3D1FF"/>
<g fill="#000000" font-size="12.3px">
<text x="633.4" y="225.9">80%</text>
<text x="633.4" y="249.2">95%</text>
</g>
</svg>
</body></html>
